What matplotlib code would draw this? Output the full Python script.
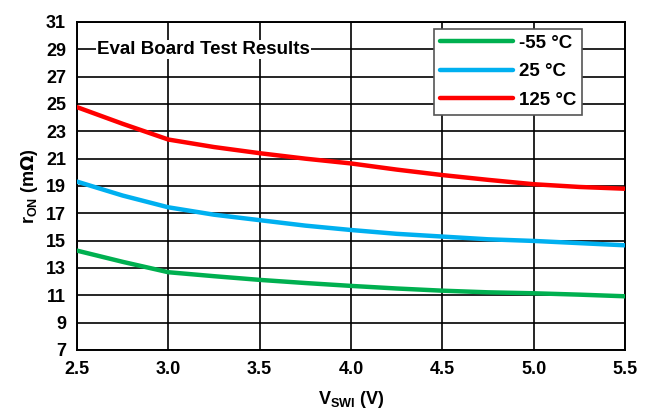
import matplotlib.pyplot as plt

plt.rcParams['font.family'] = ['Liberation Sans', 'DejaVu Sans']
plt.rcParams['font.weight'] = 'bold'
plt.rcParams['mathtext.default'] = 'bf'

# Supply voltage (V)
vswi = [2.5, 2.75, 3.0, 3.25, 3.5, 3.75, 4.0, 4.25, 4.5, 4.75, 5.0, 5.25, 5.5]

# On-resistance (mOhm) per temperature
r_m55 = [14.27, 13.45, 12.69, 12.4, 12.13, 11.9, 11.69, 11.5, 11.34, 11.22, 11.15, 11.05, 10.93]
r_25 = [19.32, 18.3, 17.44, 16.9, 16.5, 16.1, 15.78, 15.5, 15.3, 15.1, 14.98, 14.82, 14.66]
r_125 = [24.77, 23.55, 22.4, 21.85, 21.4, 21.0, 20.65, 20.2, 19.8, 19.45, 19.13, 18.93, 18.8]

labels = ['-55 °C', '25 °C', '125 °C']
colors = ['#00B050', '#00B0F0', '#FF0000']

fig = plt.figure(figsize=(6.5, 4.19), dpi=100)
ax = fig.add_axes([0.1185, 0.1647, 0.843, 0.7828])

for y, lab, c in zip([r_m55, r_25, r_125], labels, colors):
    ax.plot(vswi, y, color=c, lw=3.2, label=lab, solid_capstyle='round', zorder=3)

ax.set_xlim(2.5, 5.5)
ax.set_ylim(7, 31)
ax.set_xticks([2.5, 3.0, 3.5, 4.0, 4.5, 5.0, 5.5])
ax.set_xticklabels(['2.5', '3.0', '3.5', '4.0', '4.5', '5.0', '5.5'])
ax.set_yticks(range(7, 32, 2))
ax.tick_params(length=0, labelsize=13, pad=8)
ax.grid(True, color='black', lw=1.2)
ax.set_axisbelow(True)
for s in ax.spines.values():
    s.set_linewidth(1.4)

ax.set_xlabel(r'V$_{\mathregular{SWI}}$ (V)', fontsize=13, fontweight='bold', labelpad=8)
ax.set_ylabel(r'r$_{\mathregular{ON}}$ (m$\Omega$)', fontsize=13, fontweight='bold', labelpad=4)

ax.text(2.61, 29, 'Eval Board Test Results', fontsize=13.5, fontweight='bold',
        va='center', ha='left', zorder=4,
        bbox=dict(facecolor='white', edgecolor='none', pad=1))

leg = ax.legend(loc='upper right', bbox_to_anchor=(0.9215, 0.979), borderaxespad=0,
                fancybox=False, edgecolor='#555555', framealpha=1, fontsize=13.5,
                handlelength=3.9, handletextpad=0.3, labelspacing=0.6, borderpad=0.32)
leg.get_frame().set_linewidth(1.2)
for t in leg.get_texts():
    t.set_fontweight('bold')

plt.savefig('out.png', dpi=100)
